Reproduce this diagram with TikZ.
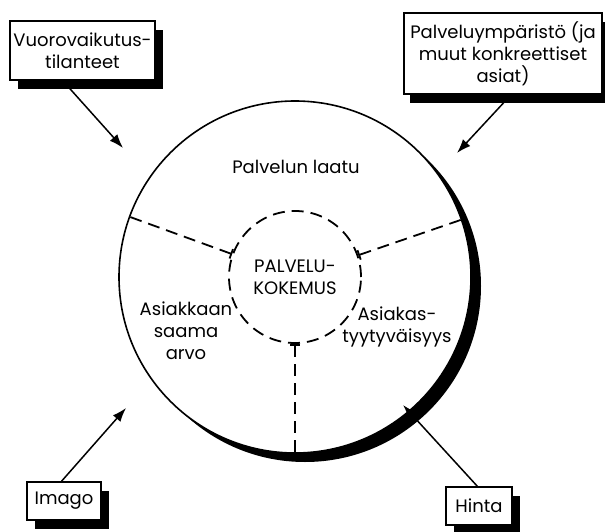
\documentclass[tikz,border=0pt]{standalone}
\usepackage{fontspec}
\setmainfont{Poppins}
\usetikzlibrary{arrows.meta,shadows}

\begin{document}
\begin{tikzpicture}[x=1pt,y=-1pt,>={Latex[length=14pt,width=10pt]},
    font=\fontsize{18}{22}\selectfont,
    musta/.style={drop shadow={shadow xshift=#1,shadow yshift=-9pt,opacity=1,fill=black}},
    laatikko/.style={draw,line width=1.6pt,fill=white,align=center,inner sep=0pt,musta=8pt},
    nuoli/.style={->,line width=1.5pt},
    katko/.style={line width=1.8pt,dash pattern=on 12pt off 7pt}]
  \useasboundingbox (0,0) rectangle (605,532);
  \node[circle,draw,line width=1.6pt,fill=white,minimum size=352pt,musta=10pt] (laatu) at (295,277) {};
  \node[circle,draw,katko,minimum size=132pt,align=center] (kokemus) at (295,277)
    {PALVELU-\\KOKEMUS};
  \foreach \a in {160,19,270}{
    \draw[katko,{Bar[width=10pt,line width=1.8pt]}-] (kokemus.\a) -- (laatu.\a);
  }
  \node[anchor=base] (laatuteksti) at (296,173) {Palvelun laatu};
  \node[align=center] (arvo) at (186,331) {Asiakkaan\\saama\\arvo};
  \node[align=center] (tyyty) at (397,327) {Asiakas-\\tyytyväisyys};

  \node[laatikko,minimum width=145pt,minimum height=59pt] (vuoro) at (82.5,50.5)
    {Vuorovaikutus-\\tilanteet};
  \node[laatikko,minimum width=198pt,minimum height=81pt,musta=6pt] (ympa) at (503,53.5)
    {Palveluympäristö (ja\\muut konkreettiset\\asiat)};
  \node[laatikko,minimum width=74pt,minimum height=38pt] (imago) at (64,501) {Imago};
  \node[laatikko,minimum width=66pt,minimum height=38pt] (hinta) at (479,506) {Hinta};

  \coordinate (k1) at (123,148);
  \coordinate (k2) at (457,153);
  \coordinate (k3) at (126,408);
  \coordinate (k4) at (403,405);
  \draw[nuoli] (vuoro.237) -- (k1);
  \draw[nuoli] (ympa.281) -- (k2);
  \draw[nuoli] (imago.97) -- (k3);
  \draw[nuoli] (hinta.95) -- (k4);
\end{tikzpicture}
\end{document}
